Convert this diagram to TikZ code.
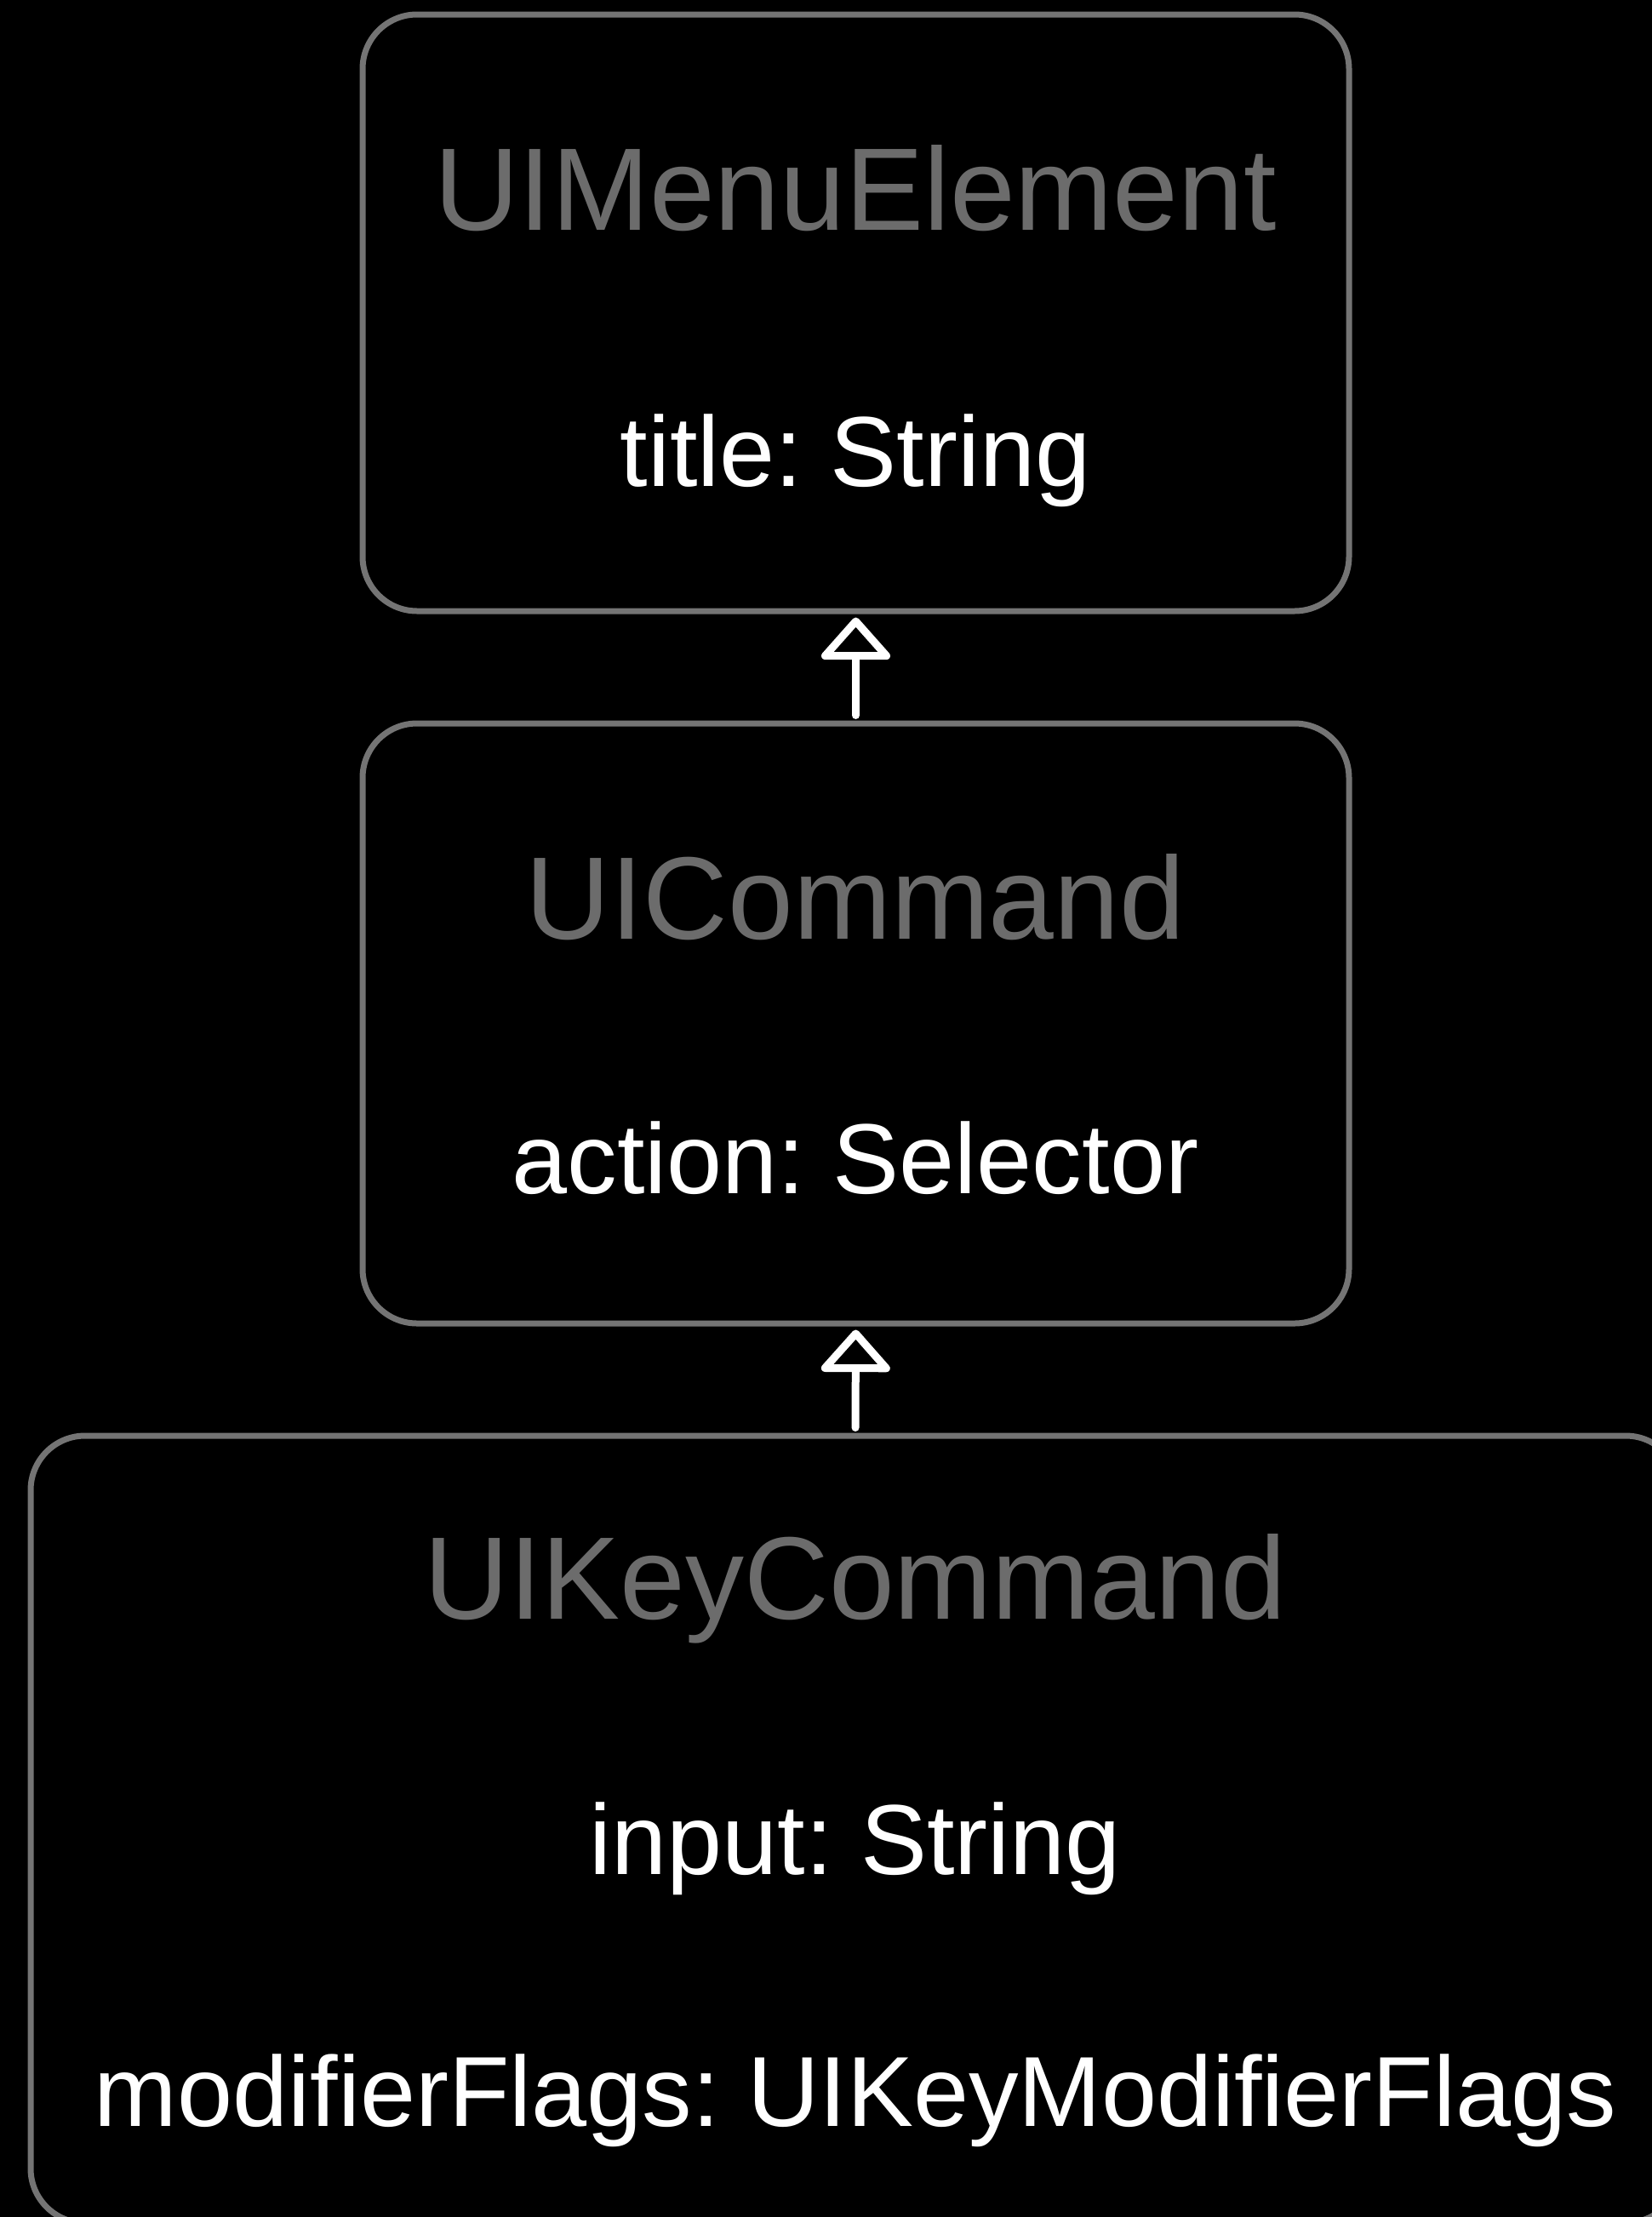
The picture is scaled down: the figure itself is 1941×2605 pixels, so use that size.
\documentclass[tikz,border=0pt]{standalone}
\usepackage{fontspec}
\setmainfont{Liberation Sans}
\usetikzlibrary{arrows.meta}
\frenchspacing

\definecolor{boxgray}{RGB}{116,116,116}
\definecolor{namegray}{RGB}{108,108,108}

\tikzset{
    classbox/.style={draw=boxgray, line width=7pt, rounded corners=64pt, inner sep=0pt},
    classname/.style={anchor=base, text=namegray, font=\fontsize{138}{160}\selectfont},
    member/.style={anchor=base, text=white, font=\fontsize{117}{140}\selectfont},
    inherits/.style={draw=white, line width=9pt, line cap=round,
        -{Triangle[open, length=52pt, width=90pt, round]}, shorten >=4pt, shorten <=6pt}
}

\begin{document}
\begin{tikzpicture}[x=1pt, y=-1pt]
    \fill[black] (0,0) rectangle (1941,2605);
    \useasboundingbox (0,0) rectangle (1941,2605);
    \clip (0,0) rectangle (1941,2605);

    % class boxes
    \node[classbox, minimum width=1159pt, minimum height=701pt] (menu) at (1005.5,367.5) {};
    \node[classbox, minimum width=1159pt, minimum height=705pt] (command) at (1005.5,1202.5) {};
    \node[classbox, minimum width=1938pt, minimum height=925pt] (keycommand) at (1005,2149.5) {};

    % names and members
    \node[classname] (menuname) at (1005,270) {UIMenuElement};
    \node[member] (title) at (1005,571) {title: String};

    \node[classname] (commandname) at (1005,1103) {UICommand};
    \node[member] (action) at (1005,1402) {action: Selector};

    \node[classname] (keyname) at (1005,1902) {UIKeyCommand};
    \node[member] (input) at (1005,2202) {input: String};
    \node[member] (flags) at (1005,2498) {modifierFlags: UIKeyModifierFlags};

    % inheritance
    \draw[inherits] (command.north) -- (menu.south);
    \draw[inherits] (keycommand.north) -- (command.south);
\end{tikzpicture}
\end{document}
